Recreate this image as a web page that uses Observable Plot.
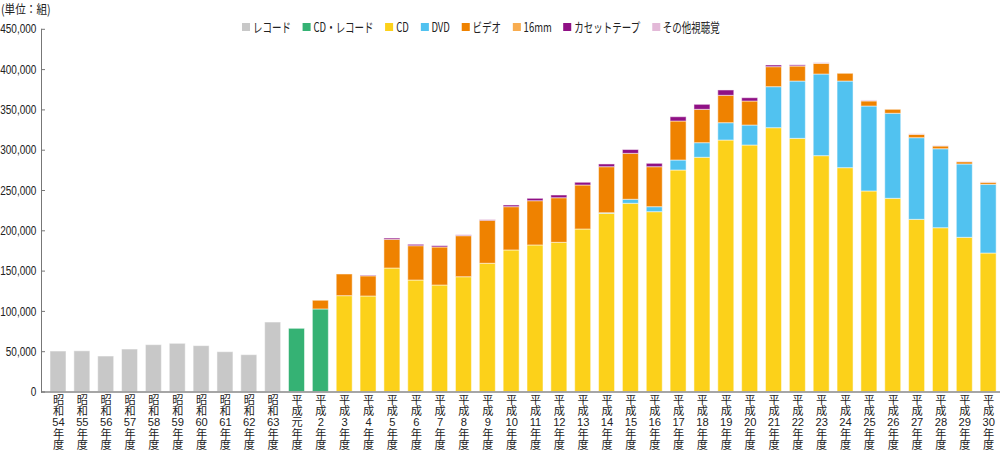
<!DOCTYPE html>
<html><head><meta charset="utf-8">
<script src="https://cdn.jsdelivr.net/npm/d3@7"></script>
<script src="https://cdn.jsdelivr.net/npm/@observablehq/plot@0.6"></script>
<style>
body{margin:0;background:#fff;}
#wrap{position:relative;width:1000px;height:453px;overflow:hidden;font-family:"Noto Sans CJK JP",sans-serif;color:#222}
#unit{position:absolute;left:1px;top:1px;font-size:12.5px;line-height:16px;transform:scaleX(0.85);transform-origin:left;white-space:nowrap}
#legend{position:absolute;left:242px;top:19px;display:flex;align-items:center;transform:scaleX(0.73);transform-origin:left;font-size:13px;line-height:16px;white-space:nowrap}
.item{display:flex;align-items:center;margin-right:16px}
.sw{width:11px;height:8px;margin-right:4px}
#chart{position:absolute;left:0;top:0}
</style></head><body><div id="wrap"><div id="chart"></div><div id="unit">(単位：組)</div><div id="legend"></div></div>
<script>
const categories = [
  "昭和54年度","昭和55年度","昭和56年度","昭和57年度","昭和58年度","昭和59年度","昭和60年度","昭和61年度","昭和62年度","昭和63年度",
  "平成元年度","平成2年度","平成3年度","平成4年度","平成5年度","平成6年度","平成7年度","平成8年度","平成9年度","平成10年度",
  "平成11年度","平成12年度","平成13年度","平成14年度","平成15年度","平成16年度","平成17年度","平成18年度","平成19年度","平成20年度",
  "平成21年度","平成22年度","平成23年度","平成24年度","平成25年度","平成26年度","平成27年度","平成28年度","平成29年度","平成30年度"
];
const seriesNames = ["レコード","CD・レコード","CD","DVD","ビデオ","16mm","カセットテープ","その他視聴覚"];
const seriesColors = ["#c8c8c8","#35b274","#fcd11a","#51c2f0","#ef8200","#f8ac4f","#8f1085","#e3b9d8"];

const record = [50200,50500,44000,52700,58100,59800,56900,49400,45700,86200, 0,0,0,0,0,0,0,0,0,0, 0,0,0,0,0,0,0,0,0,0, 0,0,0,0,0,0,0,0,0,0];
const cdRecord = [0,0,0,0,0,0,0,0,0,0, 78400,102400,0,0,0,0,0,0,0,0, 0,0,0,0,0,0,0,0,0,0, 0,0,0,0,0,0,0,0,0,0];
const cd = [0,0,0,0,0,0,0,0,0,0, 0,0,118900,118500,153200,138300,132100,142400,159100,175600,
  181800,185100,201600,221100,233500,223100,274800,290600,312000,305800,
  327300,314100,292600,277700,248800,239700,213600,203200,191300,171800];
const dvd = [0,0,0,0,0,0,0,0,0,0, 0,0,0,0,0,0,0,0,0,0,
  0,0,0,700,5000,6200,12400,18100,21500,24800,
  50900,71100,101300,107500,105400,105500,101300,98000,91000,85300];
const video = [0,0,0,0,0,0,0,0,0,0, 0,10800,26900,25000,35600,42600,47200,50900,53300,53700,
  54900,55300,54600,57100,57000,49600,48400,41400,34000,29800,
  24800,18600,13300,9600,6300,4900,4200,3400,2800,2500];
const mm16 = [0,0,0,0,0,0,0,0,0,0, 0,0,0,0,0,0,0,0,0,0, 0,0,0,0,0,0,0,0,0,0, 0,0,0,0,0,0,0,0,0,0];
const cassette = [0,0,0,0,0,0,0,0,0,0, 0,0,0,700,1600,1700,1600,800,1000,2100,
  3000,3400,3400,3400,4700,4200,5300,6200,6600,4100,
  2100,1500,0,0,0,0,0,0,0,0];
const other = [0,0,0,0,0,0,0,0,0,0, 0,0,0,0,0,0,0,900,600,0,
  0,0,0,0,0,0,0,0,0,0,
  0,700,1200,0,1200,0,800,600,600,500];

const seriesValues = [record, cdRecord, cd, dvd, video, mm16, cassette, other];
const yTicks = [0,50000,100000,150000,200000,250000,300000,350000,400000,450000];

const table = [];
categories.forEach((year, i) => {
  seriesNames.forEach((name, s) => {
    const v = seriesValues[s][i];
    if (v > 0) table.push({year, series: name, value: v});
  });
});

const splitLabel = d => d.match(/\d+|./g).join("\n");

const chart = Plot.plot({
  width: 1000, height: 453,
  marginTop: 28.8, marginBottom: 61.5, marginLeft: 41, marginRight: 0,
  style: {fontFamily: '"Liberation Sans","Noto Sans CJK JP",sans-serif', fontSize: "12px", color: "#222", background: "transparent"},
  x: {domain: categories, paddingInner: 0.33, paddingOuter: 0.27, align: 0.7, label: null},
  y: {domain: [0, 450000], label: null},
  color: {domain: seriesNames, range: seriesColors},
  marks: [
    Plot.barY(table, {x: "year", y: "value", fill: "series", stroke: "white", strokeOpacity: 0.5, strokeWidth: 1}),
    Plot.ruleY([0], {stroke: "#888", strokeWidth: 1.5}),
    Plot.frame({anchor: "left", stroke: "#777"}),
    Plot.gridY(yTicks, {stroke: "#777", strokeOpacity: 1, insetRight: 955}),
    Plot.axisY({ticks: yTicks, tickFormat: d3.format(","), tickSize: 0, tickPadding: 5, fontSize: 13, fill: "#222"}),
    Plot.axisX({tickSize: 0, tickPadding: 4, tickFormat: splitLabel, lineHeight: 1, fontSize: 11.2, fill: "#222"})
  ]
});
document.getElementById("chart").appendChild(chart);

// condense the y tick labels horizontally (narrow numerals), anchored at their right edge
const yl = chart.querySelector('g[aria-label="y-axis tick label"]');
if (yl) {
  const t = yl.getAttribute("transform") || "";
  yl.setAttribute("transform", `translate(36,0) scale(0.77,1) translate(-36,0) ${t}`);
}

const legend = document.getElementById("legend");
seriesNames.forEach((name, s) => {
  const item = document.createElement("div");
  item.className = "item";
  const sw = document.createElement("span");
  sw.className = "sw";
  sw.style.background = seriesColors[s];
  const label = document.createElement("span");
  label.textContent = name;
  item.appendChild(sw);
  item.appendChild(label);
  legend.appendChild(item);
});
</script></body></html>
